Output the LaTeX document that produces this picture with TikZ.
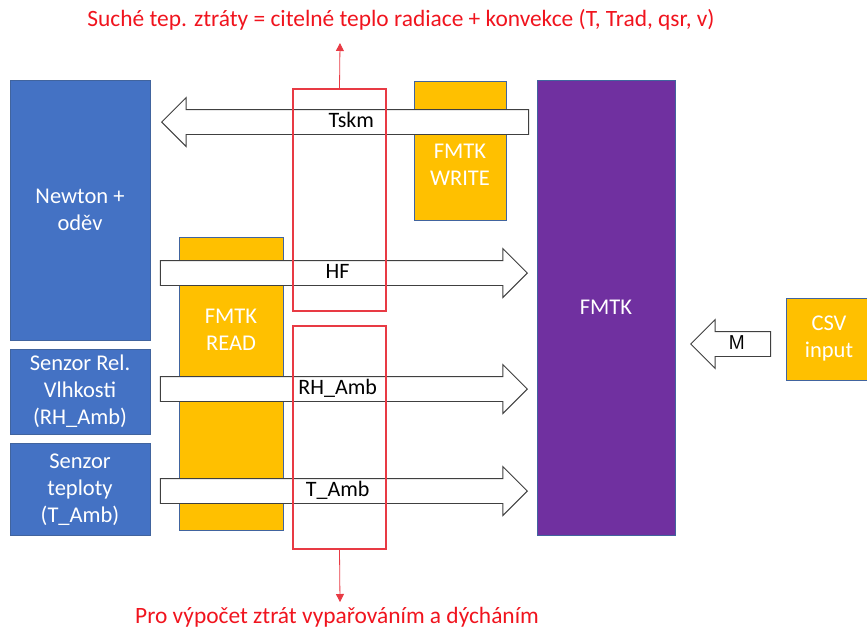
\documentclass[tikz,border=0pt]{standalone}
\usepackage{fontspec}
\setmainfont{Carlito}
\usetikzlibrary{shapes.arrows,arrows.meta}
\definecolor{modra}{HTML}{4472C4}
\definecolor{zluta}{HTML}{FFC000}
\definecolor{fialova}{HTML}{7030A0}
\definecolor{obrys}{HTML}{41649E}
\definecolor{cervena}{HTML}{F0141E}
\definecolor{ramecek}{HTML}{E83A44}
\begin{document}
\begin{tikzpicture}[x=1pt,y=-1pt,
  blok/.style={draw=obrys,line width=0.8pt,inner sep=0pt,text=white,align=center,font=\fontsize{22.5}{27}\selectfont},
  sipka/.style={draw=black!75,line width=0.9pt,fill=white,single arrow,single arrow head extend=12pt,
    text height=15pt,text depth=5pt,inner ysep=2pt,inner xsep=0pt,font=\fontsize{22}{26}\selectfont},
  ramec/.style={draw=ramecek,line width=1.2pt,minimum width=93,inner sep=0pt},
  cara/.style={draw=ramecek,line width=0.8pt,-{Triangle[length=8pt,width=8pt]}},
  popis/.style={text=cervena,font=\fontsize{23.4}{28}\selectfont}]
\useasboundingbox (0,0) rectangle (867,630);
% bloky
\node[blok,fill=modra,minimum width=140,minimum height=260,name=newton] at (80,210){Newton +\\oděv};
\node[blok,fill=modra,minimum width=140,minimum height=85,name=vlhkost] at (80,391.5){Senzor Rel.\\Vlhkosti\\(RH\_Amb)};
\node[blok,fill=modra,minimum width=140,minimum height=92,name=teplota] at (80,489.5){Senzor\\teploty\\(T\_Amb)};
\node[blok,fill=zluta,minimum width=104,minimum height=293,name=read] at (231,383.5){};
\node[blok,fill=zluta,minimum width=92,minimum height=139,name=write] at (460,150.5){};
\node[blok,fill=fialova,minimum width=138,minimum height=455,name=fmtk] at (606,307.5){FMTK};
\node[blok,fill=zluta,minimum width=86,minimum height=82,name=csv] at (829,339){CSV\\input};
\node[text=white,align=center,font=\fontsize{22.5}{27}\selectfont,name=readtxt] at (231,330){FMTK\\READ};
\node[text=white,align=center,font=\fontsize{22.5}{27}\selectfont,name=writetxt] at (460,165){FMTK\\WRITE};
% sipky
\node[sipka,shape border rotate=180,minimum height=367,anchor=tip,name=tskm] at (161,122){Tskm};
\node[sipka,minimum height=367,anchor=tip,name=hf] at (528,273){HF};
\node[sipka,minimum height=367,anchor=tip,name=rh] at (528,389){RH\_Amb};
\node[sipka,minimum height=367,anchor=tip,name=tamb] at (528,491){T\_Amb};
\node[sipka,shape border rotate=180,minimum height=80,anchor=tip,font=\sffamily\fontsize{20}{22}\selectfont,name=m] at (690,344){M};
% cervene ramecky
\node[ramec,minimum height=222,name=suche] at (339.5,200){};
\node[ramec,minimum height=223,name=vypar] at (339.5,437.5){};
\coordinate (nahoru) at (340,43);
\coordinate (dolu) at (340,602);
\draw[cara] (suche.north)--(nahoru);
\draw[cara] (vypar.south)--(dolu);
\node[popis,name=nadpis] at (401,20){Suché tep. ztráty = citelné teplo radiace + konvekce (T, Trad, qsr, v)};
\node[popis,name=pata] at (337,617){Pro výpočet ztrát vypařováním a dýcháním};
\end{tikzpicture}
\end{document}
